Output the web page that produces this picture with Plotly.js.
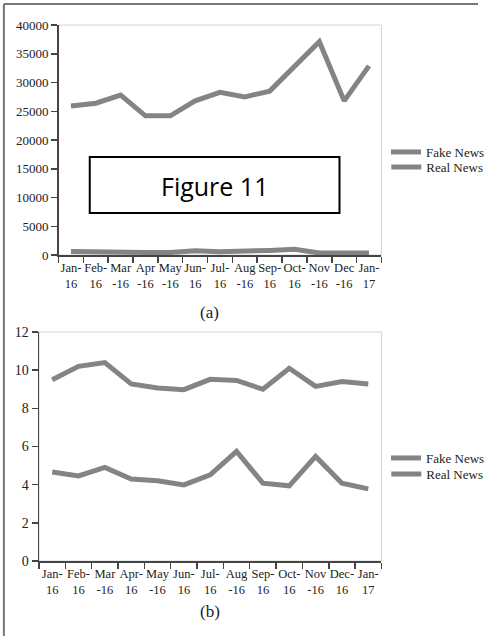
<!DOCTYPE html>
<html>
<head>
<meta charset="utf-8">
<script src="https://cdn.plot.ly/plotly-3.0.1.min.js"></script>
<style>
html,body{margin:0;padding:0;background:#fff;}
#chart{width:490px;height:636px;}
</style>
</head>
<body>
<div id="chart"></div>
<script>
// ---- data ----
const months = ["Jan-16","Feb-16","Mar-16","Apr-16","May-16","Jun-16","Jul-16","Aug-16","Sep-16","Oct-16","Nov-16","Dec-16","Jan-17"];
const tickTextA = ["Jan-<br>16","Feb-<br>16","Mar<br>-16","Apr<br>-16","May<br>-16","Jun-<br>16","Jul-<br>16","Aug<br>-16","Sep-<br>16","Oct-<br>16","Nov<br>-16","Dec<br>-16","Jan-<br>17"];
const tickTextB = ["Jan-<br>16","Feb-<br>16","Mar<br>-16","Apr-<br>16","May<br>-16","Jun-<br>16","Jul-<br>16","Aug<br>-16","Sep-<br>16","Oct-<br>16","Nov<br>-16","Dec-<br>16","Jan-<br>17"];
// (a) counts per month
const fakeA = [600, 500, 450, 450, 450, 750, 550, 600, 800, 1000, 350, 350, 350];
const realA = [25900, 26400, 27800, 24200, 24200, 26800, 28300, 27500, 28500, 32700, 37100, 26800, 32900];
// (b) values per month
const fakeB = [4.66, 4.46, 4.9, 4.3, 4.21, 3.99, 4.51, 5.74, 4.08, 3.94, 5.48, 4.08, 3.78];
const realB = [9.5, 10.2, 10.4, 9.28, 9.07, 8.98, 9.52, 9.46, 9.0, 10.1, 9.15, 9.4, 9.28];
const seriesNames = ["Fake News", "Real News"];

const W = 490, H = 636;
const px = v => v / W;
const py = v => 1 - v / H;
const lineColor = "#848484";
const serif = "Liberation Serif, Times New Roman, serif";

const traces = [
  {x: months, y: fakeA, name: seriesNames[0], xaxis: "x", yaxis: "y", legend: "legend"},
  {x: months, y: realA, name: seriesNames[1], xaxis: "x", yaxis: "y", legend: "legend2"},
  {x: months, y: realB, name: seriesNames[0], xaxis: "x2", yaxis: "y2", legend: "legend3"},
  {x: months, y: fakeB, name: seriesNames[1], xaxis: "x2", yaxis: "y2", legend: "legend4"}
].map(t => Object.assign({type: "scatter", mode: "lines", line: {color: lineColor, width: 5}}, t));

const xCommon = {
  type: "category", tickson: "boundaries", range: [-0.5, 12.5],
  showline: true, linecolor: "#444", linewidth: 1.5,
  ticks: "outside", ticklen: 6, tickcolor: "#444", tickwidth: 1.5,
  showgrid: false, zeroline: false, fixedrange: true,
  tickfont: {family: serif, size: 12.5, color: "#222"}, tickangle: 0
};
const yCommon = {
  showline: true, linecolor: "#444", linewidth: 1.5,
  ticks: "outside", ticklen: 6, tickcolor: "#444", tickwidth: 1.5,
  showgrid: false, zeroline: false, fixedrange: true, tickformat: "d",
  tickfont: {family: serif, size: 13, color: "#222"}
};
const legendBase = {x: px(396), xanchor: "left", yanchor: "middle", bgcolor: "rgba(0,0,0,0)",
  font: {family: serif, size: 13, color: "#222"}, itemwidth: 30};

const layout = {
  width: W, height: H,
  margin: {l: 0, r: 0, t: 0, b: 0},
  paper_bgcolor: "#fff", plot_bgcolor: "rgba(0,0,0,0)",
  showlegend: true,
  xaxis: Object.assign({}, xCommon, {domain: [px(60), px(391)], anchor: "y", tickvals: months, ticktext: tickTextA}),
  yaxis: Object.assign({}, yCommon, {domain: [py(255), py(25)], anchor: "x", range: [0, 40000], tickvals: [0,5000,10000,15000,20000,25000,30000,35000,40000]}),
  xaxis2: Object.assign({}, xCommon, {domain: [px(40), px(391)], anchor: "y2", tickvals: months, ticktext: tickTextB}),
  yaxis2: Object.assign({}, yCommon, {domain: [py(561), py(332)], anchor: "x2", range: [0, 12], tickvals: [0,2,4,6,8,10,12], tickfont: {family: serif, size: 14, color: "#222"}}),
  legend: Object.assign({}, legendBase, {y: py(152)}),
  legend2: Object.assign({}, legendBase, {y: py(167)}),
  legend3: Object.assign({}, legendBase, {y: py(458)}),
  legend4: Object.assign({}, legendBase, {y: py(474)}),
  shapes: [
    {type: "rect", xref: "paper", yref: "paper", x0: px(60), x1: px(391), y0: py(255), y1: py(25), line: {color: "#d4d4d4", width: 1}, layer: "below"},
    {type: "rect", xref: "paper", yref: "paper", x0: px(40), x1: px(391), y0: py(561), y1: py(332), line: {color: "#d4d4d4", width: 1}, layer: "below"},
    {type: "line", xref: "paper", yref: "paper", x0: px(4), x1: px(4), y0: 0, y1: py(4), line: {color: "#777", width: 2}},
    {type: "line", xref: "paper", yref: "paper", x0: px(4), x1: 1, y0: py(4), y1: py(4), line: {color: "#777", width: 2}},
    {type: "rect", xref: "paper", yref: "paper", x0: px(92), x1: px(348), y0: py(213), y1: py(157), line: {color: "#000", width: 2}, fillcolor: "#fff", layer: "above"}
  ],
  annotations: [
    {text: "Figure 11", xref: "paper", yref: "paper", x: px(220), y: py(186), xanchor: "center", yanchor: "middle", showarrow: false,
      font: {family: "Open Sans, Liberation Sans, sans-serif", size: 25, color: "#000"}},
    {text: "(a)", xref: "paper", yref: "paper", x: px(215), y: py(312), xanchor: "center", yanchor: "middle", showarrow: false,
      font: {family: serif, size: 17, color: "#222"}},
    {text: "(b)", xref: "paper", yref: "paper", x: px(215), y: py(611), xanchor: "center", yanchor: "middle", showarrow: false,
      font: {family: serif, size: 17, color: "#222"}}
  ]
};

Plotly.newPlot("chart", traces, layout, {staticPlot: true, displayModeBar: false});
</script>
</body>
</html>
